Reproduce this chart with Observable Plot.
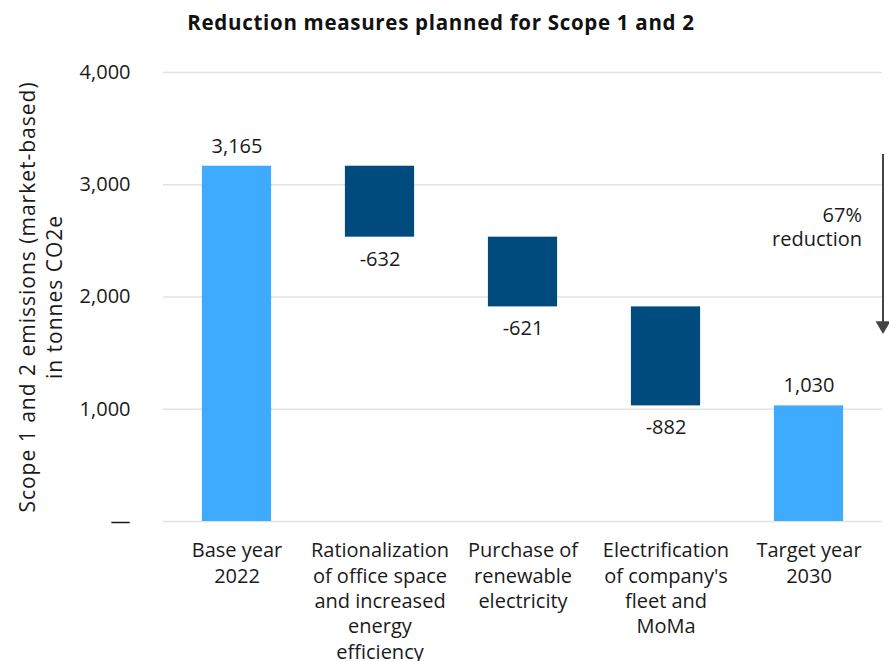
<!DOCTYPE html>
<html>
<head>
<meta charset="utf-8">
<script src="https://cdn.jsdelivr.net/npm/d3@7"></script>
<script src="https://cdn.jsdelivr.net/npm/@observablehq/plot@0.6"></script>
<style>
  body { margin: 0; background: #fff; font-family: "Open Sans", sans-serif; }
  #wrap { position: relative; width: 889px; height: 661px; }
  #title { position: absolute; left: 0; top: 9px; width: 882px; text-align: center;
           font-weight: 700; font-size: 20.5px; letter-spacing: 0.7px; line-height: 26px; color: #111; }
</style>
</head>
<body>
<div id="wrap">
  <div id="chart"></div>
  <div id="title">Reduction measures planned for Scope 1 and 2</div>
</div>
<script>
const categories = [
  "Base year\n2022",
  "Rationalization\nof office space\nand increased\nenergy\nefficiency",
  "Purchase of\nrenewable\nelectricity",
  "Electrification\nof company's\nfleet and\nMoMa",
  "Target year\n2030"
];
const values = [3165, -632, -621, -882, 1030];
const kinds = ["total", "change", "change", "change", "total"];
const yTicks = [0, 1000, 2000, 3000, 4000];
const yLabel = ["Scope 1 and 2 emissions (market-based)\nin tonnes CO2e"];
const arrowFrom = [3270];
const arrowTo = [1746];
const noteText = ["67%\nreduction"];
const noteAt = [2628];

let run = 0;
const rows = categories.map((c, i) => {
  let y1, y2;
  if (kinds[i] === "total") { y1 = 0; y2 = values[i]; }
  else { y1 = run; y2 = run + values[i]; }
  run = y2;
  return { c, v: values[i], kind: kinds[i], y1, y2, lo: Math.min(y1, y2), hi: Math.max(y1, y2) };
});
const lastCat = [categories[categories.length - 1]];

const chart = Plot.plot({
  width: 889,
  height: 661,
  marginLeft: 163,
  marginRight: 7,
  marginTop: 72,
  marginBottom: 140,
  style: { fontFamily: "Open Sans", fontSize: "20px", color: "#1a1a1a", background: "#fff" },
  x: { domain: categories, padding: 0, label: null },
  y: { domain: [0, 4000], label: null },
  color: { type: "identity" },
  marks: [
    Plot.gridY(yTicks, { stroke: "#e3e3e3", strokeOpacity: 1, strokeWidth: 1.5 }),
    Plot.axisY(yTicks, {
      tickSize: 0, tickPadding: 33, fontSize: 20, label: null,
      tickFormat: d => d === 0 ? "—" : d3.format(",")(d)
    }),
    Plot.axisX({ tickSize: 0, tickPadding: 18, lineHeight: 1.265, fontSize: 20, label: null }),
    Plot.text(yLabel, { frameAnchor: "left", dx: -124, rotate: -90, textAnchor: "middle", fontSize: 21, lineHeight: 1.28, fill: "#1a1a1a" }),
    Plot.barY(rows, {
      x: "c", y1: "y1", y2: "y2",
      fill: d => d.kind === "total" ? "#3fabff" : "#004b7e",
      insetLeft: 36.9, insetRight: 36.9
    }),
    Plot.text(rows.filter(d => d.kind === "total"), {
      x: "c", y: "hi", text: d => d3.format(",")(d.v), dy: -20, fontSize: 20, fill: "#1a1a1a"
    }),
    Plot.text(rows.filter(d => d.kind === "change"), {
      x: "c", y: "lo", text: d => String(d.v), dy: 22, fontSize: 20, fill: "#1a1a1a"
    }),
    Plot.ruleX(lastCat, { y1: arrowFrom, y2: arrowTo, dx: 74, stroke: "#444", strokeWidth: 2 }),
    Plot.dot(lastCat, { x: d => d, y: arrowTo, symbol: "triangle", r: 5.5, rotate: 180, fill: "#444", stroke: "none", dx: 74 }),
    Plot.text(lastCat, { x: d => d, y: noteAt, text: noteText, textAnchor: "end", dx: 53, lineHeight: 1.2, fontSize: 20, fill: "#1a1a1a" })
  ]
});
d3.select(chart).selectAll("text")
  .filter(function () { return this.textContent.startsWith("Scope"); })
  .style("letter-spacing", "1px");
document.getElementById("chart").appendChild(chart);
</script>
</body>
</html>
